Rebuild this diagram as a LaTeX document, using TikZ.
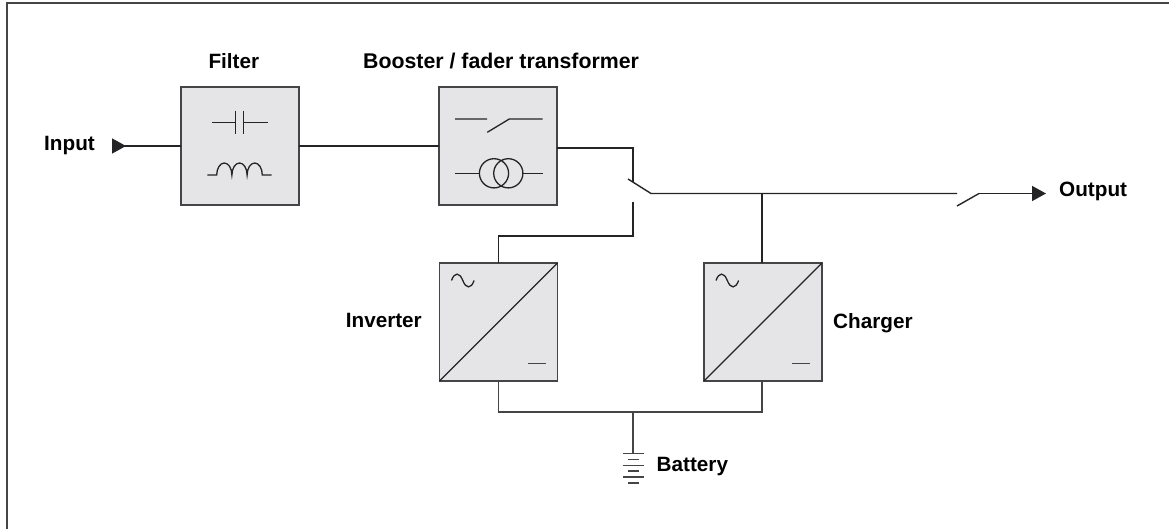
\documentclass[tikz,border=0pt]{standalone}
\usepackage{fontspec}
\setmainfont{Liberation Sans}
\usetikzlibrary{arrows.meta,positioning,calc}
\definecolor{upsline}{rgb}{0.14,0.14,0.15}
\definecolor{upsedge}{rgb}{0.27,0.27,0.28}
\definecolor{upsfill}{rgb}{0.90,0.90,0.91}

\begin{document}
\begin{tikzpicture}[
  x=1pt, y=-1pt,
  font=\fontsize{20.7}{24}\selectfont\bfseries,
  block/.style={draw=upsedge, fill=upsfill, line width=1.5pt, minimum size=118pt,
                inner sep=0pt, outer sep=0pt},
  wire/.style={draw=upsline, line width=1.4pt},
  thin wire/.style={draw=upsline, line width=1.3pt},
  cell/.style={draw=upsedge, line width=1.6pt},
  lbl/.style={inner sep=0pt, text=black},
  tip/.style={wire, -{Triangle[length=14pt,width=15pt]}}
]
\useasboundingbox (0,0) rectangle (1169,529);
\draw[upsedge, line width=2pt] (6.7,529) -- (6.7,2.8) -- (1169,2.8);

% --- blocks ---
\node[block] (filter) at (240,146) {};
\node[block] (booster) at (498,146) {};
\node[block] (inverter) at (498.5,322) {};
\node[block] (charger) at (763,322) {};

% --- labels ---
\node[lbl, anchor=base west] (filterlbl) at (208.3,69) {Filter};
\node[lbl, anchor=base west, font=\fontsize{21.3}{24}\selectfont\bfseries] (boosterlbl) at (363,68.5) {Booster / fader transformer};
\node[lbl, anchor=base east] (inputlbl) at (95,151) {Input};
\node[lbl, anchor=base west] (outputlbl) at (1059,196.7) {Output};
\node[lbl, anchor=base east] (inverterlbl) at (422,327) {Inverter};
\node[lbl, anchor=base west] (chargerlbl) at (833,328) {Charger};
\node[lbl, anchor=base west] (batterylbl) at (656.5,471) {Battery};

% --- connection points ---
\coordinate (instart) at (112,146);
\coordinate (boostout) at (557,148);
\coordinate (sw1top) at (633,182);
\coordinate (sw1blade) at (628,179);
\coordinate (sw1end) at (651,193.5);
\coordinate (sw1low) at (633,202);
\coordinate (chargetee) at (762,193.5);
\coordinate (sw2left) at (957,193.5);
\coordinate (sw2blade) at (957,206);
\coordinate (sw2end) at (979,193.5);
\coordinate (outtip) at (1046,193.5);
\coordinate (bustee) at (633,412);
\coordinate (battop) at (633,453.5);

% --- connectors ---
\draw[wire, {Triangle[reversed,length=14pt,width=15pt]}-] (instart) -- (filter.west);
\draw[wire] (filter.east) -- (booster.west);
\draw[wire] (boostout) -| (sw1top);
\draw[wire] (sw1blade) -- (sw1end) -- (sw2left);
\draw[wire] (sw1low) |- (inverter.north |- 0,236) -- (inverter.north);
\draw[wire] (charger.north -| chargetee) -- (chargetee);
\draw[wire] (sw2blade) -- (sw2end);
\draw[tip] (sw2end) -- (outtip);
\draw[wire, upsedge] (inverter.south) |- (bustee) -| (charger.south -| chargetee);
\draw[cell] (bustee) -- (battop);

% --- battery ---
\foreach \y/\w in {453.5/10.7, 459.5/5.3, 465.5/10.7, 471/5.3, 476.7/10.7, 482.7/5.3} {
  \draw[cell] (633.3-\w,\y) -- (633.3+\w,\y);
}

% --- capacitor and choke ---
\draw[thin wire] (212,122.3) -- (235.7,122.3) (243.7,122.3) -- (267.7,122.3);
\draw[thin wire] (235.7,110.7) -- (235.7,134) (243.7,110.7) -- (243.7,134);
\draw[thin wire] (207.3,175) -- (216.7,175)
  arc[start angle=180, end angle=0, x radius=7.6, y radius=-12]
  arc[start angle=180, end angle=0, x radius=7.6, y radius=-12]
  arc[start angle=180, end angle=0, x radius=7.6, y radius=-12] -- (271.7,175);

% --- bypass switch and transformer ---
\draw[thin wire] (455,119) -- (487,119) (487.3,132.3) -- (509.3,119) -- (542.7,119);
\draw[thin wire] (455,173.3) -- (479.3,173.3) (522.7,173.3) -- (542.7,173.3);
\draw[thin wire] (494,173.3) circle[radius=14.6] (508.3,173.3) circle[radius=14.6];

% --- inverter and charger faces ---
\foreach \b in {inverter,charger} {
  \draw[thin wire] (\b.south west) -- (\b.north east);
  \draw[thin wire] ($(\b.north west)+(12,17.5)$)
    .. controls +(3,-8.5) and +(-3.3,-8.5) .. ++(11.3,0)
    .. controls +(3.3,8.5) and +(-3,8.5) .. ++(11.3,0);
  \draw[cell] ($(\b.south east)+(-30,-17.5)$) -- ++(18,0);
}
\end{tikzpicture}
\end{document}
